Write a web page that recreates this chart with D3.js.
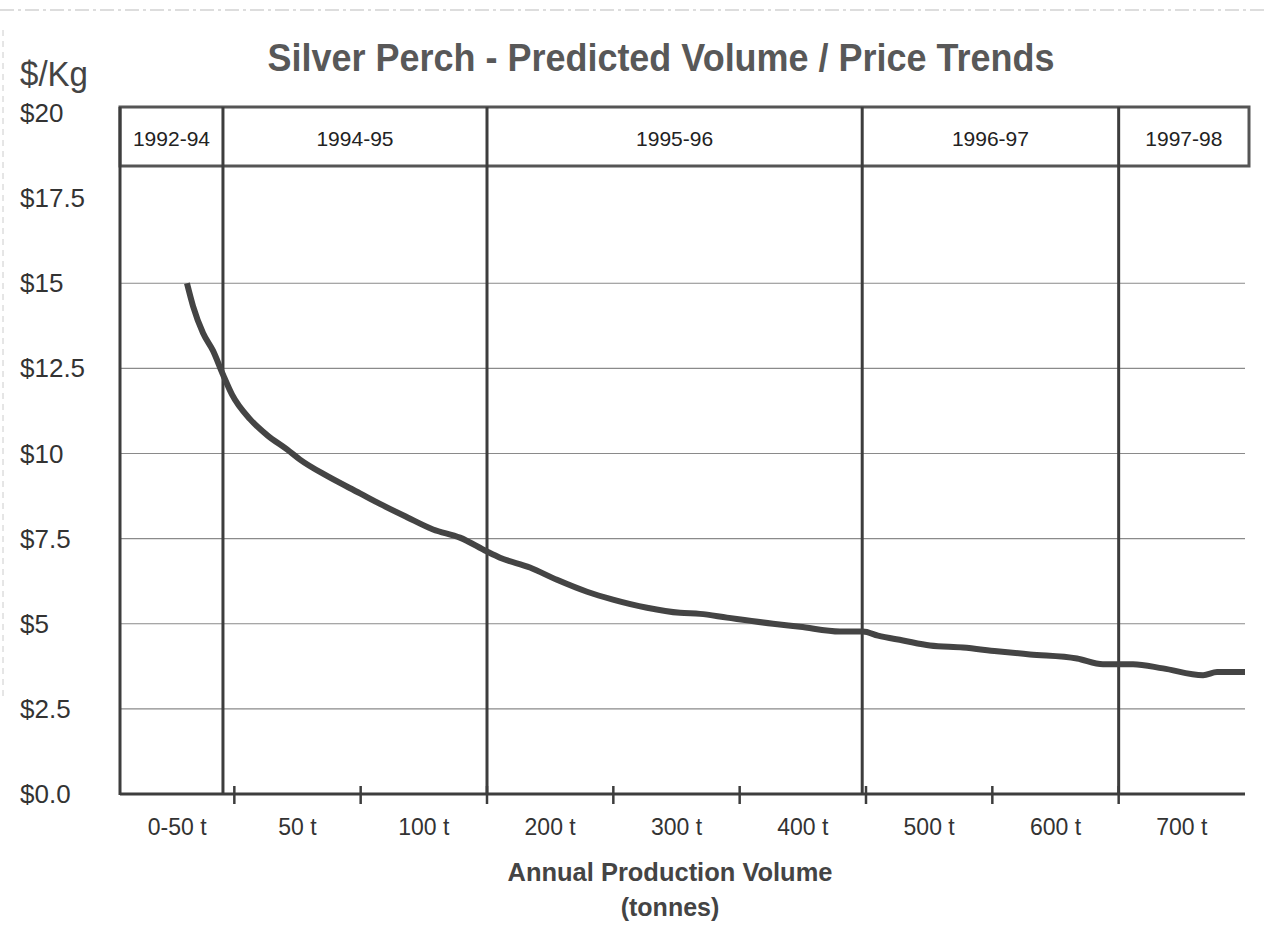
<!DOCTYPE html>
<html>
<head>
<meta charset="utf-8">
<script src="https://cdn.jsdelivr.net/npm/d3@7/dist/d3.min.js"></script>
<style>
  html, body { margin: 0; padding: 0; background: #fff; }
  svg { display: block; }
  text { font-family: "Liberation Sans", Arial, Helvetica, sans-serif; }
  .narrow { font-family: "Liberation Sans Narrow", "Liberation Sans", Arial, sans-serif; }
</style>
</head>
<body>
<svg id="chart" width="1268" height="928"></svg>
<script>
// Volume categories along the bottom axis
const categories = ["0-50 t", "50 t", "100 t", "200 t", "300 t", "400 t", "500 t", "600 t", "700 t"];

// Price axis ticks and their labels
const priceTicks = [0, 2.5, 5, 7.5, 10, 12.5, 15, 17.5, 20];
const priceTickLabels = ["$0.0", "$2.5", "$5", "$7.5", "$10", "$12.5", "$15", "$17.5", "$20"];
const gridValues = [2.5, 5, 7.5, 10, 12.5, 15];

// Seasons shown in the header band, and where each one ends (in category units)
const periods = ["1992-94", "1994-95", "1995-96", "1996-97", "1997-98"];
const periodEnds = [0.91, 3.0, 5.97, 8.0, 9.0];

// Predicted price curve: position along the volume axis (category units) and $/Kg
const volumePos = [0.625, 0.673, 0.752, 0.831, 0.910, 0.982, 1.124, 1.259, 1.417, 1.520,
                   1.734, 1.995, 2.153, 2.367, 2.573, 2.786, 3.000, 3.103, 3.340, 3.554,
                   3.792, 3.997, 4.267, 4.528, 4.686, 4.900, 5.264, 5.478, 5.794, 5.976,
                   6.095, 6.293, 6.507, 6.768, 7.037, 7.298, 7.670, 7.876, 8.114, 8.351,
                   8.668, 8.779, 9.000];
const pricePerKg = [15.0, 14.33, 13.54, 13.02, 12.32, 11.73, 11.01, 10.54, 10.12, 9.82,
                    9.34, 8.83, 8.52, 8.13, 7.77, 7.53, 7.12, 6.94, 6.65, 6.29,
                    5.94, 5.71, 5.47, 5.32, 5.29, 5.18, 5.00, 4.91, 4.77, 4.77,
                    4.65, 4.51, 4.36, 4.30, 4.19, 4.10, 3.98, 3.81, 3.81, 3.69,
                    3.49, 3.58, 3.58];

const svg = d3.select("#chart");
const ink = "#3d3d3d";

const axisLeftX = 120, plotRight = 1245, headerRight = 1249;
const headerTop = 107, headerBottom = 166;

const xBand = d3.scaleBand().domain(categories).range([108, plotRight]).padding(0);
const xPos = d3.scaleLinear().domain([0, categories.length]).range([108, plotRight]);
const y = d3.scaleLinear().domain([0, 20]).range([794, 113]);

// faint page border lines
svg.append("line").attr("x1", 0).attr("x2", 1268).attr("y1", 10).attr("y2", 10)
  .attr("stroke", "#bbb").attr("stroke-width", 1).attr("stroke-dasharray", "14 4 3 4");
svg.append("line").attr("x1", 3).attr("x2", 3).attr("y1", 30).attr("y2", 700)
  .attr("stroke", "#ccc").attr("stroke-width", 1).attr("stroke-dasharray", "6 5");

// Title
svg.append("text")
  .attr("class", "narrow")
  .attr("x", 661).attr("y", 71)
  .attr("text-anchor", "middle")
  .attr("font-size", 38).attr("font-weight", "bold").attr("fill", "#585858")
  .attr("textLength", 787).attr("lengthAdjust", "spacingAndGlyphs")
  .text("Silver Perch - Predicted Volume / Price Trends");

// Y axis unit label
svg.append("text")
  .attr("class", "narrow")
  .attr("x", 20).attr("y", 86)
  .attr("font-size", 35).attr("fill", "#444")
  .attr("textLength", 68).attr("lengthAdjust", "spacingAndGlyphs")
  .text("$/Kg");

// Horizontal gridlines
svg.append("g").selectAll("line").data(gridValues).join("line")
  .attr("x1", axisLeftX).attr("x2", plotRight)
  .attr("y1", d => y(d)).attr("y2", d => y(d))
  .attr("stroke", "#8a8a8a").attr("stroke-width", 1.2);

// Y tick labels (left aligned)
svg.append("g").selectAll("text").data(priceTicks).join("text")
  .attr("x", 20).attr("y", d => y(d) + 9)
  .attr("font-size", 26).attr("fill", "#333")
  .text((d, i) => priceTickLabels[i]);

// Header band with season labels
const periodData = periods.map((p, i) => ({
  label: p,
  x0: i === 0 ? axisLeftX : xPos(periodEnds[i - 1]),
  x1: i === periods.length - 1 ? headerRight : xPos(periodEnds[i])
}));

svg.append("rect")
  .attr("x", axisLeftX).attr("y", headerTop)
  .attr("width", headerRight - axisLeftX).attr("height", headerBottom - headerTop)
  .attr("fill", "none").attr("stroke", "#555").attr("stroke-width", 3);

svg.append("g").selectAll("text").data(periodData).join("text")
  .attr("x", d => (d.x0 + d.x1) / 2).attr("y", 146)
  .attr("text-anchor", "middle")
  .attr("font-size", 21).attr("fill", "#222")
  .text(d => d.label);

// Season boundary lines through the plot
svg.append("g").selectAll("line").data(periodEnds.slice(0, -1)).join("line")
  .attr("x1", d => xPos(d)).attr("x2", d => xPos(d))
  .attr("y1", headerTop).attr("y2", y(0))
  .attr("stroke", ink).attr("stroke-width", 3);

// Left axis line
svg.append("line")
  .attr("x1", axisLeftX).attr("x2", axisLeftX)
  .attr("y1", headerTop).attr("y2", y(0) + 1)
  .attr("stroke", ink).attr("stroke-width", 3);

// Bottom axis line with category boundary ticks
svg.append("line")
  .attr("x1", axisLeftX).attr("x2", plotRight)
  .attr("y1", y(0)).attr("y2", y(0))
  .attr("stroke", ink).attr("stroke-width", 3);

svg.append("g").selectAll("line").data(categories.slice(1)).join("line")
  .attr("x1", d => xBand(d)).attr("x2", d => xBand(d))
  .attr("y1", y(0) - 8).attr("y2", y(0) + 10)
  .attr("stroke", ink).attr("stroke-width", 2.5);

// Category labels
svg.append("g").selectAll("text").data(categories).join("text")
  .attr("x", (d, i) => i === 0 ? (axisLeftX + xBand(categories[1])) / 2 : xBand(d) + xBand.bandwidth() / 2)
  .attr("y", 835)
  .attr("text-anchor", "middle")
  .attr("font-size", 23).attr("fill", "#333")
  .text(d => d);

// Axis title
svg.append("text")
  .attr("x", 670).attr("y", 881)
  .attr("text-anchor", "middle")
  .attr("font-size", 25).attr("font-weight", "bold").attr("fill", "#444")
  .attr("textLength", 325).attr("lengthAdjust", "spacingAndGlyphs")
  .text("Annual Production Volume");
svg.append("text")
  .attr("x", 670).attr("y", 916)
  .attr("text-anchor", "middle")
  .attr("font-size", 25).attr("font-weight", "bold").attr("fill", "#444")
  .text("(tonnes)");

// Predicted price curve
const points = volumePos.map((u, i) => ({ u, p: pricePerKg[i] }));
const line = d3.line()
  .x(d => xPos(d.u))
  .y(d => y(d.p))
  .curve(d3.curveMonotoneX);

svg.append("path")
  .datum(points)
  .attr("d", line)
  .attr("fill", "none")
  .attr("stroke", "#444")
  .attr("stroke-width", 6)
  .attr("stroke-linejoin", "round");
</script>
</body>
</html>
